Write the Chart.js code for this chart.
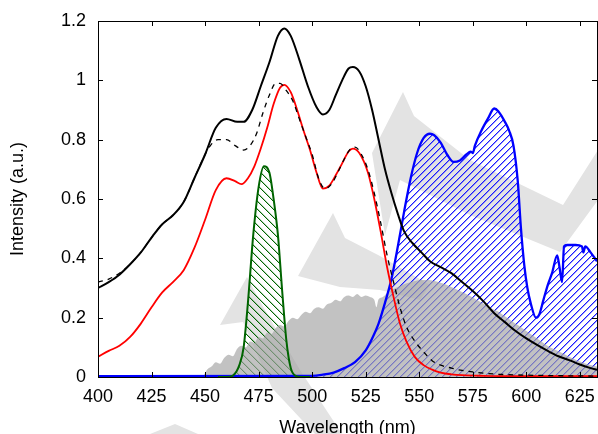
<!DOCTYPE html>
<html>
<head>
<meta charset="utf-8">
<script src="https://cdn.jsdelivr.net/npm/chart.js@4.4.1/dist/chart.umd.min.js"></script>
<style>
  html, body { margin: 0; padding: 0; background: #fff; overflow: hidden; }
</style>
</head>
<body>
<canvas id="spectra" width="598" height="434"></canvas>
<script>
// total emission (solid black)
const totalX = [400, 405, 410, 415, 420, 425, 430, 435, 440, 445, 450, 455, 460, 465, 468, 472, 476, 480, 484, 487, 490, 494, 498, 502, 505, 508, 511, 514, 517, 519, 522, 525, 528, 531, 534, 537, 540, 543, 547, 551, 555, 560, 565, 570, 575, 580, 585, 590, 595, 600, 605, 610, 615, 620, 625, 630, 633]
const totalY = [0.30, 0.32, 0.345, 0.38, 0.42, 0.47, 0.515, 0.545, 0.59, 0.67, 0.75, 0.84, 0.87, 0.86, 0.86, 0.90, 0.98, 1.06, 1.15, 1.175, 1.15, 1.07, 0.98, 0.91, 0.885, 0.90, 0.95, 1.0, 1.04, 1.045, 1.03, 0.98, 0.90, 0.80, 0.70, 0.62, 0.55, 0.49, 0.45, 0.42, 0.39, 0.37, 0.35, 0.32, 0.29, 0.255, 0.215, 0.185, 0.155, 0.13, 0.108, 0.088, 0.07, 0.057, 0.042, 0.03, 0.024]

// dashed black
const dashX = [400, 405, 410, 415, 420, 425, 430, 435, 440, 445, 450, 453, 456, 460, 464, 468, 471, 474, 477, 480, 483, 485, 488, 491, 494, 497, 500, 503, 506, 509, 512, 515, 518, 520, 523, 526, 529, 532, 535, 538, 541, 544, 548, 552, 556, 560, 565, 570, 575, 585, 595, 610, 633]
const dashY = [0.32, 0.33, 0.35, 0.38, 0.42, 0.47, 0.515, 0.545, 0.59, 0.67, 0.75, 0.785, 0.80, 0.80, 0.78, 0.765, 0.78, 0.82, 0.89, 0.95, 0.99, 0.99, 0.965, 0.93, 0.87, 0.81, 0.75, 0.67, 0.635, 0.65, 0.69, 0.735, 0.77, 0.775, 0.75, 0.70, 0.62, 0.52, 0.41, 0.32, 0.235, 0.17, 0.12, 0.085, 0.055, 0.04, 0.03, 0.022, 0.017, 0.01, 0.007, 0.005, 0.003]

// red
const redX = [400, 405, 410, 415, 420, 425, 430, 435, 440, 445, 450, 455, 460, 464, 467, 470, 473, 476, 479, 482, 485, 487, 490, 493, 496, 499, 502, 505, 508, 511, 514, 517, 519, 522, 526, 529, 532, 535, 538, 541, 544, 548, 552, 556, 560, 565, 570, 580, 600, 633]
const redY = [0.068, 0.088, 0.105, 0.135, 0.18, 0.235, 0.285, 0.32, 0.36, 0.435, 0.53, 0.63, 0.67, 0.66, 0.65, 0.67, 0.71, 0.77, 0.84, 0.92, 0.975, 0.985, 0.96, 0.90, 0.83, 0.765, 0.69, 0.635, 0.645, 0.68, 0.72, 0.76, 0.77, 0.755, 0.69, 0.60, 0.49, 0.37, 0.27, 0.18, 0.12, 0.067, 0.04, 0.025, 0.015, 0.009, 0.006, 0.004, 0.003, 0.003]

// green band
const greenX = [456, 460, 463, 466, 468, 470, 472.5, 475, 477.5, 480, 482, 484, 486, 488, 490, 492, 495, 499]
const greenY = [0, 0, 0.005, 0.04, 0.10, 0.25, 0.48, 0.64, 0.71, 0.69, 0.60, 0.48, 0.29, 0.12, 0.03, 0.005, 0, 0]

// blue band
const blueX = [400, 500, 505, 510, 515, 520, 525, 528, 531, 534, 537, 540, 543, 546, 549, 552, 555, 557, 560, 563, 566, 569, 572, 574, 575, 576, 579, 582, 585, 587, 590, 592, 594, 596, 597.5, 599, 600.5, 602, 604.5, 606, 608, 610, 612, 614.4, 615.5, 616.7, 617.6, 619, 623, 626, 626.6, 627.5, 630, 633]
const blueY = [0.003, 0.004, 0.008, 0.015, 0.03, 0.05, 0.09, 0.13, 0.18, 0.25, 0.33, 0.44, 0.56, 0.67, 0.755, 0.805, 0.82, 0.815, 0.79, 0.75, 0.725, 0.73, 0.75, 0.76, 0.755, 0.78, 0.83, 0.87, 0.905, 0.895, 0.86, 0.83, 0.78, 0.66, 0.50, 0.38, 0.30, 0.25, 0.20, 0.21, 0.26, 0.31, 0.35, 0.41, 0.37, 0.32, 0.44, 0.445, 0.445, 0.44, 0.42, 0.44, 0.42, 0.39]

// grey reference spectrum
const greyX = [449, 451, 453, 455, 457, 459, 461, 463, 465, 467, 469, 471, 473, 475, 477, 479, 481, 483, 485, 487, 489, 491, 493, 495, 497, 499, 501, 503, 505, 507, 509, 511, 513, 515, 517, 519, 521, 523, 525, 527, 529, 530, 531, 533, 536, 539, 542, 545, 548, 551, 554, 557, 560, 563, 566, 569, 572, 575, 578, 581, 584, 587, 590, 593, 596, 599, 602, 605, 608, 611, 614, 617, 620, 623, 626, 629, 633]
const greyY = [0.0, 0.025, 0.035, 0.05, 0.045, 0.065, 0.075, 0.07, 0.095, 0.105, 0.10, 0.12, 0.115, 0.135, 0.13, 0.15, 0.145, 0.165, 0.175, 0.17, 0.19, 0.2, 0.195, 0.21, 0.22, 0.215, 0.23, 0.235, 0.23, 0.245, 0.25, 0.26, 0.255, 0.27, 0.275, 0.27, 0.28, 0.27, 0.275, 0.27, 0.26, 0.235, 0.262, 0.27, 0.29, 0.30, 0.31, 0.318, 0.324, 0.327, 0.327, 0.324, 0.318, 0.31, 0.30, 0.29, 0.28, 0.268, 0.255, 0.243, 0.23, 0.22, 0.205, 0.19, 0.175, 0.16, 0.145, 0.13, 0.115, 0.10, 0.09, 0.08, 0.068, 0.058, 0.05, 0.042, 0.035]

const xTicks = [400, 425, 450, 475, 500, 525, 550, 575, 600, 625]

const pts = (xs, ys) => xs.map((x, i) => ({ x: x, y: ys[i] }))

// crisp pixel hatch, "/" when forward, "\" otherwise
function hatch(color, forward, s, soft) {
  const c = document.createElement('canvas')
  c.width = s
  c.height = s
  const g = c.getContext('2d')
  for (let i = 0; i < s; i++) {
    const row = forward ? s - 1 - i : i
    g.fillStyle = color
    g.fillRect(i, row, 1, 1)
    g.globalAlpha = soft
    g.fillRect((i + 1) % s, row, 1, 1)
    g.globalAlpha = 1
  }
  return g.createPattern(c, 'repeat')
}

// light grey watermark behind the plot
const watermark = {
  id: 'watermark',
  beforeDraw(chart) {
    const ctx = chart.ctx
    const shapes = [
      [[247, 277], [262, 305], [300, 370], [342, 434], [315, 434], [272, 388], [243, 322], [220, 325]],
      [[298, 276], [333, 213], [345, 238], [380, 256], [430, 285], [420, 300], [380, 290], [340, 287]],
      [[403, 92], [414, 116], [470, 160], [563, 205], [598, 150], [598, 200], [560, 252], [470, 215], [400, 180], [385, 235], [372, 153]],
      [[150, 434], [175, 424], [198, 434]]
    ]
    ctx.save()
    ctx.fillStyle = '#e3e3e3'
    shapes.forEach(p => {
      ctx.beginPath()
      p.forEach((q, i) => i ? ctx.lineTo(q[0], q[1]) : ctx.moveTo(q[0], q[1]))
      ctx.closePath()
      ctx.fill()
    })
    ctx.restore()
  }
}

// box with inward ticks on all four sides
const frame = {
  id: 'frame',
  afterDraw(chart) {
    const { ctx, chartArea: a, scales: { x, y } } = chart
    ctx.save()
    ctx.strokeStyle = '#000'
    ctx.lineWidth = 1
    ctx.beginPath()
    x.ticks.forEach(t => {
      const px = Math.round(x.getPixelForValue(t.value)) + 0.5
      ctx.moveTo(px, a.bottom); ctx.lineTo(px, a.bottom - 5)
      ctx.moveTo(px, a.top); ctx.lineTo(px, a.top + 5)
    })
    y.ticks.forEach(t => {
      const py = Math.round(y.getPixelForValue(t.value)) + 0.5
      ctx.moveTo(a.left, py); ctx.lineTo(a.left + 5, py)
      ctx.moveTo(a.right, py); ctx.lineTo(a.right - 5, py)
    })
    ctx.stroke()
    ctx.strokeRect(Math.round(a.left) + 0.5, Math.round(a.top) + 0.5, Math.round(a.right - a.left), Math.round(a.bottom - a.top))
    ctx.restore()
  }
}

Chart.defaults.font.family = '"Liberation Sans", Arial, sans-serif'
Chart.defaults.color = '#000'

const spectraConfig = {
  type: 'line',
  data: {
    datasets: [
      {
        label: 'Total',
        data: pts(totalX, totalY),
        borderColor: '#000',
        borderWidth: 2,
        fill: false,
      },
      {
        label: 'Dashed',
        data: pts(dashX, dashY),
        borderColor: '#000',
        borderWidth: 1.3,
        borderDash: [5, 5],
        fill: false,
      },
      {
        label: 'Red',
        data: pts(redX, redY),
        borderColor: '#ff0000',
        borderWidth: 1.8,
        fill: false,
      },
      {
        label: 'Grey',
        data: pts(greyX, greyY),
        borderWidth: 0,
        borderColor: 'rgba(0,0,0,0)',
        backgroundColor: 'rgba(165,165,165,0.68)',
        fill: 'origin',
        tension: 0,
      },
      {
        label: 'Green',
        data: pts(greenX, greenY),
        borderColor: '#006400',
        borderWidth: 2,
        backgroundColor: hatch('#006400', false, 8, 0.3),
        fill: 'origin',
      },
      {
        label: 'Blue',
        data: pts(blueX, blueY),
        borderColor: '#0000ff',
        borderWidth: 2.3,
        backgroundColor: hatch('#1a1aff', true, 7, 0.45),
        fill: 'origin',
      },
    ],
  },
  options: {
    responsive: false,
    animation: false,
    parsing: false,
    elements: {
      point: { radius: 0 },
      line: { tension: 0.35, cubicInterpolationMode: 'monotone' },
    },
    layout: { padding: { top: 21, left: 0, right: 1, bottom: 0 } },
    plugins: {
      legend: { display: false },
      tooltip: { enabled: false },
      filler: { drawTime: 'beforeDatasetsDraw' },
    },
    scales: {
      x: {
        type: 'linear',
        min: 400,
        max: 633,
        grid: { display: false, drawTicks: false },
        border: { display: false },
        afterBuildTicks: s => { s.ticks = xTicks.map(v => ({ value: v })) },
        ticks: { padding: 9, font: { size: 18 }, includeBounds: false },
        title: { display: true, text: 'Wavelength (nm)', font: { size: 18 }, padding: { top: 0, bottom: -5 } },
        afterFit: s => { s.height = 57; s.paddingLeft = 0; s.paddingRight = 0 },
      },
      y: {
        min: 0,
        max: 1.2,
        grid: { display: false, drawTicks: false },
        border: { display: false },
        ticks: { stepSize: 0.2, padding: 12, font: { size: 18 }, callback: v => String(Number(v.toFixed(1))) },
        title: { display: true, text: 'Intensity (a.u.)', font: { size: 18 }, padding: { top: 7, bottom: 0 } },
        afterFit: s => { s.width = 98; s.paddingTop = 0; s.paddingBottom = 0 },
      },
    },
  },
  plugins: [watermark, frame],
}

const spectraCanvas = document.getElementById('spectra')
window.spectraChart = new Chart(spectraCanvas, spectraConfig)
</script>
</body>
</html>
